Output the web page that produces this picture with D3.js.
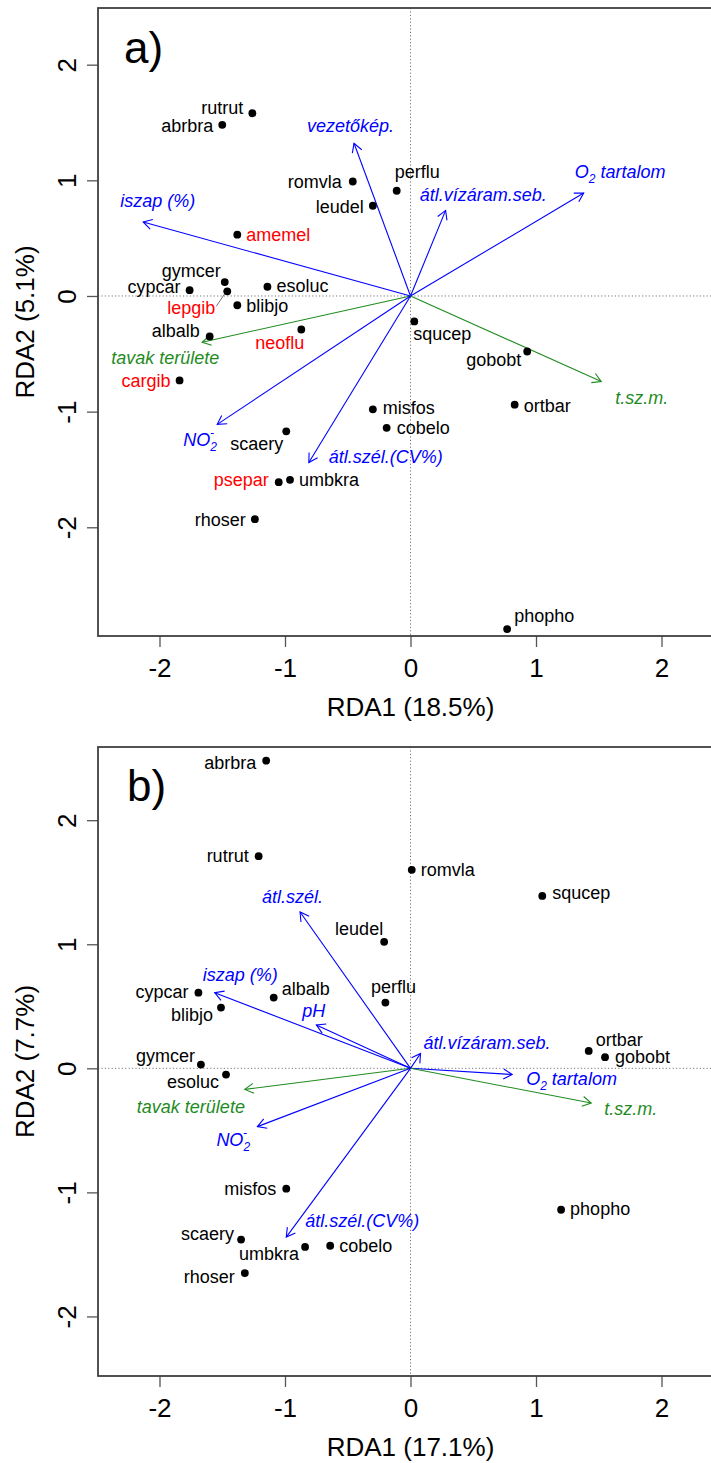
<!DOCTYPE html>
<meta charset="utf-8">
<style>
 body { margin: 0; background: #fff; }
 svg { font-family: "Liberation Sans", Arial, sans-serif; }
 .box { fill: none; stroke: #404040; stroke-width: 1.8; }
 .axis line { stroke: #555; stroke-width: 1.3; }
 .axis path { display: none; }
 .axis text { font-size: 26px; fill: #000; font-family: "Liberation Sans", Arial, sans-serif; }
 .zero { stroke: #777; stroke-width: 1; stroke-dasharray: 1.2 2.2; }
 .env line, .env path { fill: none; stroke-width: 1.1; }
 .env text { font-size: 18px; font-style: italic; }
 .spp text { font-size: 18px; }
 .title { font-size: 26px; }
 .tag { font-size: 44px; }
</style>
<body>
<svg width="711" height="1463"></svg>
<script src="https://cdn.jsdelivr.net/npm/d3@7"></script>
<script>

 // ---- panel a) species scores
 var sppA  = ['rutrut','abrbra','romvla','leudel','perflu','amemel','gymcer','cypcar','lepgib','esoluc','blibjo',
              'albalb','neoflu','cargib','scaery','psepar','umbkra','rhoser','squcep','gobobt','misfos','cobelo','ortbar','phopho']
 var sppA1 = [-1.26,-1.50,-0.46,-0.30,-0.11,-1.38,-1.48,-1.76,-1.46,-1.14,-1.38,
              -1.60,-0.87,-1.84,-0.99,-1.05,-0.96,-1.24,0.03,0.93,-0.30,-0.19,0.83,0.77]
 var sppA2 = [1.58,1.48,0.99,0.78,0.91,0.53,0.12,0.05,0.04,0.08,-0.08,
              -0.35,-0.29,-0.73,-1.17,-1.61,-1.59,-1.93,-0.22,-0.48,-0.98,-1.14,-0.94,-2.88]
 var redA  = ['amemel','lepgib','neoflu','cargib','psepar']

 // ---- panel a) environmental arrows
 var envA  = ['iszap (%)','vezetőkép.','átl.vízáram.seb.','O2 tartalom','t.sz.m.','tavak területe','NO2-','átl.szél.(CV%)']
 var envA1 = [-2.13,-0.45,0.28,1.38,1.52,-1.66,-1.54,-0.81]
 var envA2 = [0.64,1.32,0.74,0.89,-0.74,-0.40,-1.11,-1.44]

 // ---- panel b) species scores
 var sppB  = ['abrbra','rutrut','cypcar','blibjo','albalb','gymcer','esoluc','romvla','squcep','leudel','perflu',
              'ortbar','gobobt','misfos','phopho','scaery','umbkra','cobelo','rhoser']
 var sppB1 = [-1.15,-1.21,-1.69,-1.51,-1.09,-1.67,-1.47,0.01,1.05,-0.21,-0.20,
              1.42,1.55,-0.99,1.20,-1.35,-0.84,-0.64,-1.32]
 var sppB2 = [2.48,1.71,0.61,0.49,0.57,0.03,-0.05,1.60,1.39,1.02,0.53,
              0.14,0.09,-0.97,-1.14,-1.38,-1.44,-1.43,-1.65]
 var redB  = []

 // ---- panel b) environmental arrows
 var envB  = ['átl.szél.','iszap (%)','pH','átl.vízáram.seb.','O2 tartalom','t.sz.m.','tavak területe','NO2-','átl.szél.(CV%)']
 var envB1 = [-0.88,-1.56,-0.75,0.08,0.81,1.44,-1.32,-1.22,-0.99]
 var envB2 = [1.26,0.61,0.35,0.12,-0.05,-0.28,-0.17,-0.47,-1.36]

 var greenVars = ['t.sz.m.','tavak területe']
 var ticks = [-2, -1, 0, 1, 2]

 // label placement: [anchor, dx, dy] in px from the point / arrow tip
 var labA = {
   rutrut:['end',-9,-6], abrbra:['end',-9,1], romvla:['end',-11,0], leudel:['end',-9,1],
   perflu:['start',-2,-19], amemel:['start',9,0], gymcer:['end',-4,-11], cypcar:['end',-9,-3],
   lepgib:['end',-12,16], esoluc:['start',9,-1], blibjo:['start',9,0], albalb:['end',-10,-6],
   neoflu:['end',3,13], cargib:['end',-9,0], scaery:['end',-3,12], psepar:['end',-10,-2],
   umbkra:['start',9,0], rhoser:['end',-9,1], squcep:['start',-1,12], gobobt:['end',-6,8],
   misfos:['start',10,-2], cobelo:['start',10,0], ortbar:['start',9,1], phopho:['start',7,-13]
 }
 var envLabA = {
   'iszap (%)':[-23,-21], 'vezetőkép.':[-47,-18], 'átl.vízáram.seb.':[-26,-16], 'O2 tartalom':[-9,-21],
   't.sz.m.':[14,16], 'tavak területe':[-91,15], 'NO2-':[-34,15], 'átl.szél.(CV%)':[20,-6]
 }
 var labB = {
   abrbra:['end',-10,2], rutrut:['end',-10,0], cypcar:['end',-10,-1], blibjo:['end',-8,7],
   albalb:['start',8,-9], gymcer:['end',-6,-9], esoluc:['end',-7,7], romvla:['start',9,0],
   squcep:['start',10,-3], leudel:['end',-1,-13], perflu:['middle',8,-16], ortbar:['start',7,-11],
   gobobt:['start',10,0], misfos:['end',-10,0], phopho:['start',9,-1], scaery:['end',-7,-6],
   umbkra:['end',-6,7], cobelo:['start',9,0], rhoser:['end',-10,4]
 }
 var envLabB = {
   'átl.szél.':[-38,-15], 'iszap (%)':[-12,-18], 'pH':[-14,-14], 'átl.vízáram.seb.':[3,-11],
   'O2 tartalom':[14,4], 't.sz.m.':[13,6], 'tavak területe':[-108,17], 'NO2-':[-41,13], 'átl.szél.(CV%)':[19,-16]
 }

 var svg = d3.select('svg')

 panel({
   tag: 'a)', xlab: 'RDA1 (18.5%)', ylab: 'RDA2 (5.1%)',
   top: 8, bottom: 636, ydom: [-2.94, 2.49],
   spp: sppA, s1: sppA1, s2: sppA2, red: redA, lab: labA,
   env: envA, e1: envA1, e2: envA2, elab: envLabA, tagY: 63, tagX: 124
 })
 panel({
   tag: 'b)', xlab: 'RDA1 (17.1%)', ylab: 'RDA2 (7.7%)',
   top: 747, bottom: 1376, ydom: [-2.48, 2.59],
   spp: sppB, s1: sppB1, s2: sppB2, red: redB, lab: labB,
   env: envB, e1: envB1, e2: envB2, elab: envLabB, tagY: 801, tagX: 127
 })

 function panel(p) {
   var left = 98, right = 723
   var x = d3.scaleLinear().domain([-2.49, 2.49]).range([left, right])
   var y = d3.scaleLinear().domain(p.ydom).range([p.bottom, p.top])
   var g = svg.append('g')

   // zero lines
   g.append('line').attr('class', 'zero')
     .attr('x1', x(0)).attr('x2', x(0)).attr('y1', p.top).attr('y2', p.bottom)
   g.append('line').attr('class', 'zero')
     .attr('x1', left).attr('x2', right).attr('y1', y(0)).attr('y2', y(0))

   // axes
   var ax = g.append('g').attr('class', 'axis')
     .attr('transform', `translate(0,${p.bottom})`)
     .call(d3.axisBottom(x).tickValues(ticks).tickSize(11).tickPadding(12).tickFormat(d3.format('d')))
   ax.selectAll('text').text(d => d < 0 ? '-' + Math.abs(d) : d)

   var ay = g.append('g').attr('class', 'axis')
     .attr('transform', `translate(${left},0)`)
     .call(d3.axisLeft(y).tickValues(ticks).tickSize(11).tickFormat(d3.format('d')))
   ay.selectAll('text')
     .text(d => d < 0 ? '-' + Math.abs(d) : d)
     .attr('transform', 'rotate(-90)')
     .attr('x', 0).attr('y', -31).attr('dy', '0.35em')
     .attr('text-anchor', 'middle')

   g.append('rect').attr('class', 'box')
     .attr('x', left).attr('y', p.top)
     .attr('width', right - left).attr('height', p.bottom - p.top)

   g.append('text').attr('class', 'title')
     .attr('x', (left + right) / 2).attr('y', p.bottom + 71).attr('dy', '0.35em')
     .attr('text-anchor', 'middle').text(p.xlab)
   g.append('text').attr('class', 'title')
     .attr('transform', `translate(25,${(p.top + p.bottom) / 2}) rotate(-90)`)
     .attr('dy', '0.35em').attr('text-anchor', 'middle').text(p.ylab)

   g.append('text').attr('class', 'tag')
     .attr('x', p.tagX).attr('y', p.tagY).text(p.tag)

   // arrows
   var env = g.append('g').attr('class', 'env')
   p.env.forEach(function (name, i) {
     var col = greenVars.indexOf(name) >= 0 ? '#1f8b1f' : '#0000ff'
     var x0 = x(0), y0 = y(0), x1 = x(p.e1[i]), y1 = y(p.e2[i])
     var a = Math.atan2(y1 - y0, x1 - x0), h = 10, w = Math.PI / 6
     env.append('line').attr('stroke', col)
       .attr('x1', x0).attr('y1', y0).attr('x2', x1).attr('y2', y1)
     env.append('path').attr('stroke', col)
       .attr('d', `M${x1 - h * Math.cos(a - w)},${y1 - h * Math.sin(a - w)}L${x1},${y1}L${x1 - h * Math.cos(a + w)},${y1 - h * Math.sin(a + w)}`)
     var off = p.elab[name]
     var t = env.append('text').attr('fill', col)
       .attr('x', x1 + off[0]).attr('y', y1 + off[1]).attr('dy', '0.35em')
     if (name === 'NO2-') {
       t.append('tspan').text('NO')
       t.append('tspan').attr('dy', 5).style('font-size', '12px').text('2')
       t.append('tspan').attr('dx', -7).attr('dy', -14).style('font-size', '12px').text('-')
     } else if (name.indexOf('O2') === 0) {
       t.append('tspan').text('O')
       t.append('tspan').attr('dy', 5).style('font-size', '12px').text('2')
       t.append('tspan').attr('dy', -5).text(name.slice(2))
     } else {
       t.text(name)
     }
   })

   // species
   var spp = g.append('g').attr('class', 'spp')
   p.spp.forEach(function (name, i) {
     var px = x(p.s1[i]), py = y(p.s2[i]), l = p.lab[name]
     if (name === 'lepgib' && p.red.length) {
       spp.append('line').attr('stroke', '#555').attr('stroke-width', 0.8)
         .attr('x1', px - 11).attr('y1', py + 15).attr('x2', px - 3).attr('y2', py + 3)
     }
     spp.append('circle').attr('cx', px).attr('cy', py).attr('r', 3.9).attr('fill', '#000')
     spp.append('text')
       .attr('x', px + l[1]).attr('y', py + l[2]).attr('dy', '0.35em')
       .attr('text-anchor', l[0])
       .attr('fill', p.red.indexOf(name) >= 0 ? '#ff0000' : '#000')
       .text(name)
   })
 }

</script>
